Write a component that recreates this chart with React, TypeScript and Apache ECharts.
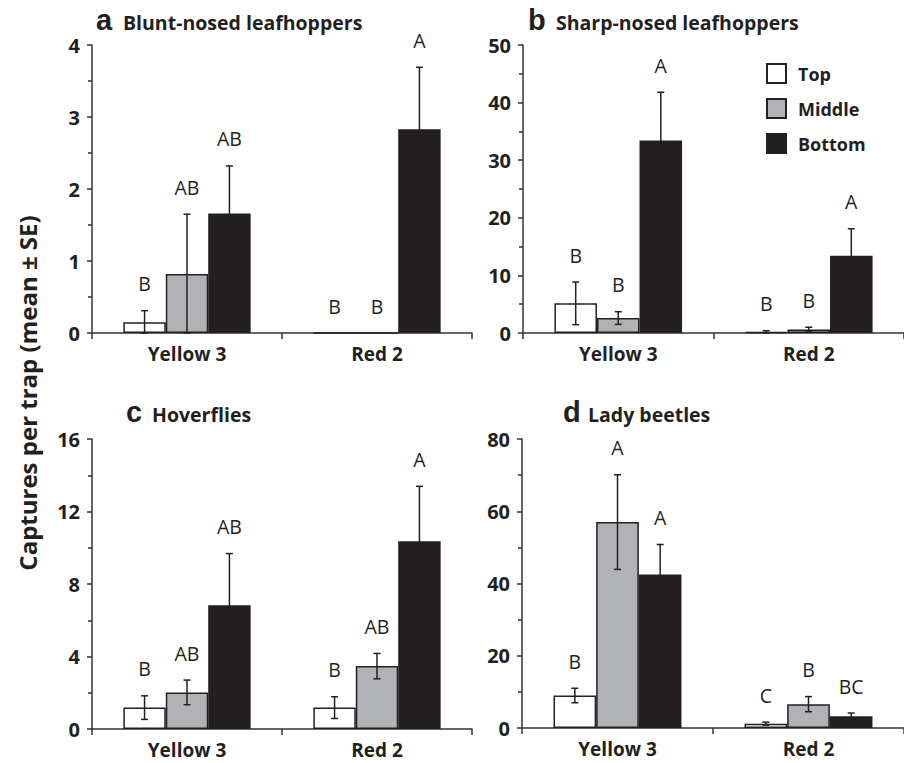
import React, { useEffect, useRef } from "react";
import * as echarts from "echarts";

const categories = ["Yellow 3", "Red 2"];
const positions = ["Top", "Middle", "Bottom"];

// rows: Top, Middle, Bottom ; columns: Yellow 3, Red 2
const aMeans = [[0.15, 0], [0.82, 0], [1.66, 2.83]];
const aSE = [[0.16, 0], [0.83, 0], [0.66, 0.86]];
const aLetters = [["B", "B"], ["AB", "B"], ["AB", "A"]];

const bMeans = [[5.15, 0.2], [2.6, 0.6], [33.4, 13.4]];
const bSE = [[3.7, 0.2], [1.1, 0.4], [8.4, 4.7]];
const bLetters = [["B", "B"], ["B", "B"], ["A", "A"]];

const cMeans = [[1.18, 1.18], [2.02, 3.47], [6.83, 10.36]];
const cSE = [[0.65, 0.6], [0.68, 0.7], [2.85, 3.03]];
const cLetters = [["B", "B"], ["AB", "AB"], ["AB", "A"]];

const dMeans = [[9.0, 1.2], [57.0, 6.6], [42.5, 3.24]];
const dSE = [[2.0, 0.4], [13.1, 2.1], [8.3, 0.9]];
const dLetters = [["B", "C"], ["A", "B"], ["A", "BC"]];

const yMax = [4, 50, 16, 80];
const yInterval = [1, 10, 4, 20];
const panelLetters = ["a", "b", "c", "d"];
const panelTitles = ["Blunt-nosed leafhoppers", "Sharp-nosed leafhoppers", "Hoverflies", "Lady beetles"];
const yAxisTitle = "Captures per trap (mean ± SE)";

const panels = [
  { means: aMeans, se: aSE, letters: aLetters },
  { means: bMeans, se: bSE, letters: bLetters },
  { means: cMeans, se: cSE, letters: cLetters },
  { means: dMeans, se: dSE, letters: dLetters },
];

const grids = [
  { left: 92, top: 45, width: 380, height: 288 },
  { left: 523, top: 45, width: 390, height: 288 },
  { left: 92, top: 439, width: 380, height: 290 },
  { left: 522, top: 439, width: 394, height: 289 },
];

const titlePos = [
  { lx: 96, tx: 123, y: 25 },
  { lx: 528, tx: 556, y: 25 },
  { lx: 126, tx: 152, y: 417 },
  { lx: 563, tx: 588, y: 417 },
];

const fills = ["#ffffff", "#b1b2b6", "#231f20"];
const ink = "#231f20";
const lineCol = "#333333";
const FONT = "'Open Sans', Lato, sans-serif";
const GAP = 0.33;

export default function App() {
  const ref = useRef<HTMLDivElement>(null);
  useEffect(() => {
    if (!ref.current) return;
    const chart = echarts.init(ref.current, undefined, { renderer: "svg" });

    const xAxis: any[] = [];
    const yAxis: any[] = [];
    const series: any[] = [];
    const graphic: any[] = [];

    panels.forEach((p, gi) => {
      xAxis.push({
        type: "category",
        gridIndex: gi,
        data: categories,
        axisLine: { lineStyle: { color: lineCol, width: 1.5 } },
        axisTick: { show: true, length: 6, lineStyle: { color: lineCol, width: 1.5 } },
        axisLabel: { color: ink, fontFamily: FONT, fontWeight: "bold", fontSize: 19, margin: 11 },
      });
      yAxis.push({
        type: "value",
        gridIndex: gi,
        min: 0,
        max: yMax[gi],
        interval: yInterval[gi],
        axisLine: { show: true, lineStyle: { color: lineCol, width: 1.5 } },
        axisTick: { show: true, length: 5, lineStyle: { color: lineCol, width: 1.5 } },
        minorTick: { show: true, splitNumber: 2, length: 4, lineStyle: { color: lineCol, width: 1.5 } },
        splitLine: { show: false },
        minorSplitLine: { show: false },
        axisLabel: { color: ink, fontFamily: FONT, fontWeight: "bold", fontSize: 20, margin: 12 },
      });
      positions.forEach((name, si) => {
        series.push({
          type: "bar",
          name,
          xAxisIndex: gi,
          yAxisIndex: gi,
          data: p.means[si],
          barGap: "0%",
          barCategoryGap: GAP * 100 + "%",
          itemStyle: { color: fills[si], borderColor: ink, borderWidth: 1.5 },
          emphasis: { disabled: true },
        });
      });
      const errData: any[] = [];
      positions.forEach((_, si) => {
        categories.forEach((__, ci) => {
          errData.push([ci, p.means[si][ci], p.se[si][ci], si, p.letters[si][ci]]);
        });
      });
      series.push({
        type: "custom",
        xAxisIndex: gi,
        yAxisIndex: gi,
        z: 5,
        data: errData,
        encode: { x: 0, y: 1 },
        renderItem: (params: any, api: any) => {
          const ci = api.value(0);
          const mean = api.value(1);
          const se = api.value(2);
          const si = api.value(3);
          const letter = errData[params.dataIndex][4];
          const band = api.size([1, 0])[0];
          const bw = (band * (1 - GAP)) / 3;
          const center = api.coord([ci, mean]);
          const x = center[0] + (si - 1) * bw;
          const hi = mean + se;
          const lo = Math.max(0, mean - se);
          const yHi = api.coord([ci, hi])[1];
          const yLo = api.coord([ci, lo])[1];
          const children: any[] = [];
          const ls = { stroke: ink, lineWidth: 1.5 };
          if (se > 0) {
            children.push({ type: "line", shape: { x1: x, y1: yHi, x2: x, y2: yLo }, style: ls });
            children.push({ type: "line", shape: { x1: x - 3.5, y1: yHi, x2: x + 3.5, y2: yHi }, style: ls });
            children.push({ type: "line", shape: { x1: x - 3.5, y1: yLo, x2: x + 3.5, y2: yLo }, style: ls });
          }
          children.push({
            type: "text",
            style: {
              text: letter,
              x,
              y: yHi - 27,
              align: "center",
              verticalAlign: "middle",
              fontFamily: FONT,
              fontSize: 19.5,
              fill: ink,
            },
          });
          return { type: "group", children };
        },
      });

      graphic.push({
        type: "text",
        left: titlePos[gi].lx,
        top: titlePos[gi].y - 20,
        style: {
          text: panelLetters[gi],
          fontFamily: "'Liberation Sans', Arial, sans-serif",
          fontWeight: "bold",
          fontSize: 29,
          fill: ink,
        },
      });
      graphic.push({
        type: "text",
        left: titlePos[gi].tx,
        top: titlePos[gi].y - 13,
        style: {
          text: panelTitles[gi],
          fontFamily: FONT,
          fontWeight: "bold",
          fontSize: 19.5,
          fill: ink,
        },
      });
    });

    graphic.push({
      type: "text",
      x: 27,
      y: 393,
      rotation: Math.PI / 2,
      style: {
        text: yAxisTitle,
        align: "center",
        verticalAlign: "middle",
        fontFamily: FONT,
        fontWeight: "bold",
        fontSize: 24,
        fill: ink,
      },
    });

    chart.setOption({
      animation: false,
      backgroundColor: "#ffffff",
      grid: grids.map((g) => ({ ...g, containLabel: false })),
      xAxis,
      yAxis,
      series,
      graphic,
      legend: {
        data: positions,
        orient: "vertical",
        left: 761,
        top: 58,
        itemWidth: 19,
        itemHeight: 19,
        itemGap: 14,
        icon: "rect",
        selectedMode: false,
        itemStyle: { borderColor: ink, borderWidth: 2 },
        textStyle: { color: ink, fontFamily: FONT, fontWeight: "bold", fontSize: 18, padding: [0, 0, 0, 7] },
      },
    });
    return () => chart.dispose();
  }, []);
  return (
    <div
      ref={ref}
      style={{ position: "absolute", left: 0, top: 0, width: 904, height: 763 }}
    />
  );
}
